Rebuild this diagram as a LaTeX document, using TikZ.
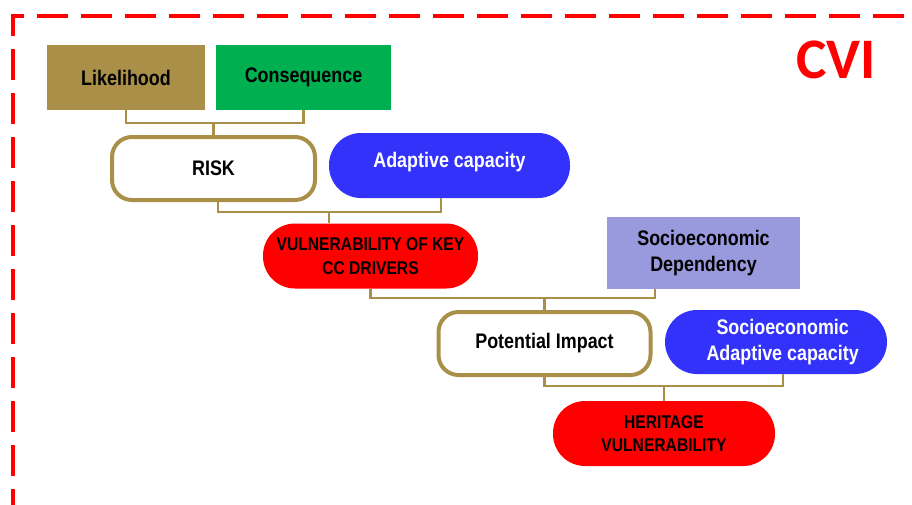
\documentclass[tikz,border=0pt]{standalone}
\usepackage{fontspec}
\setmainfont{Liberation Sans}[FakeStretch=0.85]
\newfontfamily\cvifont{Carlito}
\definecolor{gold}{RGB}{169,143,72}
\definecolor{leafgreen}{RGB}{0,176,80}
\definecolor{capblue}{RGB}{50,50,250}
\definecolor{lavender}{RGB}{153,153,221}
\definecolor{cvired}{RGB}{255,0,0}
\begin{document}
\begin{tikzpicture}[x=0.75pt,y=-0.75pt,
    every node/.style={font=\bfseries\fontsize{15.8}{20}\selectfont, align=center, inner sep=0pt},
    box/.style={rectangle, minimum height=48.75pt},
    pill/.style={rectangle, rounded corners=24pt, minimum height=48.75pt},
    redpill/.style={pill, fill=cvired, font=\bfseries\fontsize{13.8}{17.5}\selectfont},
    bluepill/.style={pill, fill=capblue, text=white},
    outline/.style={draw=gold, line width=3pt, rounded corners=15pt, fill=white, minimum width=159pt, minimum height=47.25pt},
    link/.style={draw=gold, line width=1.9pt},
    frame/.style={draw=cvired, line width=3pt, dash pattern=on 23pt off 10pt}]
  \useasboundingbox (0,0) rectangle (912,504);
  % frame and title
  \draw[frame] (13,520) -- (13,16) -- (930,16);
  \node[font=\cvifont\bfseries\fontsize{43}{43}\selectfont, text=cvired] (cvi) at (836,60) {CVI};
  % nodes
  \draw
    (126,77.5) node[box, fill=gold, minimum width=118.5pt] (lik) {Likelihood}
    (303.5,77.5) node[box, fill=leafgreen, minimum width=131.25pt] (con) {Consequence}
    (213.5,168.5) node[outline, minimum width=152.25pt] (risk) {RISK}
    (449.5,165.5) node[bluepill, minimum width=180.75pt] (adapt) {Adaptive capacity\\[-12pt]\mbox{}}
    (370.5,256) node[redpill, minimum width=161.25pt] (vuln) {VULNERABILITY OF KEY\\CC DRIVERS}
    (703.5,253) node[box, fill=lavender, minimum width=144.75pt, minimum height=54pt] (sdep) {Socioeconomic\\Dependency}
    (544.5,343.5) node[outline] (pi) {Potential Impact}
    (776,342) node[bluepill, minimum width=166.5pt, minimum height=48pt] (sadapt) {\hspace*{10pt}Socioeconomic\\\hspace*{10pt}Adaptive capacity}
    (664,433.5) node[redpill, minimum width=166.5pt] (herit) {HERITAGE\\VULNERABILITY};
  % connectors
  \coordinate (j1) at (213.5,123);
  \coordinate (j2) at (329,212);
  \coordinate (j3) at (544.5,298);
  \coordinate (j4) at (664,386);
  \begin{scope}[link]
    \draw (lik.south) |- (j1) -| (con.south);
    \draw (j1) -- (risk.north);
    \draw ([xshift=3.4pt]risk.south) |- (j2) -| ([xshift=-6.4pt]adapt.south);
    \draw (j2) -- (j2 |- vuln.north);
    \draw (vuln.south) |- (j3) -| ([xshift=-36.4pt]sdep.south);
    \draw (j3) -- (pi.north);
    \draw (pi.south) |- (j4) -| ([xshift=5.25pt]sadapt.south);
    \draw (j4) -- (herit.north);
  \end{scope}
\end{tikzpicture}
\end{document}
